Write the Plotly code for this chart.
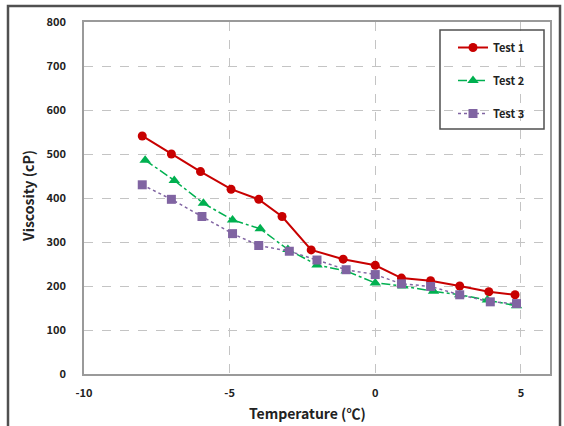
import plotly.graph_objects as go

# Data
t1_x = [-8.0, -7.0, -6.0, -4.95, -4.0, -3.2, -2.2, -1.1, 0.0, 0.9, 1.9, 2.9, 3.9, 4.8]
t1_y = [541, 500, 460, 420, 397, 358, 282, 261, 247, 218, 212, 200, 187, 180]

t2_x = [-7.9, -6.9, -5.9, -4.9, -3.95, -3.0, -2.0, -1.0, 0.0, 0.95, 2.0, 2.9, 3.85, 4.85]
t2_y = [486, 440, 388, 350, 330, 283, 248, 234, 207, 200, 188, 180, 168, 155]

t3_x = [-8.0, -7.0, -5.95, -4.9, -4.0, -2.95, -2.0, -1.0, 0.0, 0.9, 1.9, 2.9, 3.95, 4.85]
t3_y = [430, 397, 358, 319, 292, 279, 259, 237, 226, 205, 199, 180, 164, 160]

series_names = ["Test 1", "Test 2", "Test 3"]
x_ticks = [-10, -5, 0, 5]
x_tick_labels = ["-10", "-5", "0", "5"]
y_ticks = [0, 100, 200, 300, 400, 500, 600, 700, 800]

FONT = "Noto Sans CJK KR"
W, H = 564, 426
L, R, T, B = 84, 14, 22, 52
PW, PH = W - L - R, H - T - B


def px(xp):
    return (xp - L) / PW


def py(yp):
    return (H - B - yp) / PH


fig = go.Figure()
fig.add_trace(go.Scatter(
    x=t1_x, y=t1_y, name=series_names[0], mode="lines+markers", legendgroup="a",
    line=dict(color="#C80000", width=2),
    marker=dict(symbol="circle", size=9, color="#C80000")))
fig.add_trace(go.Scatter(
    x=t2_x, y=t2_y, name=series_names[1], mode="lines+markers", legendgroup="b",
    line=dict(color="#00B050", width=1.5, dash="dashdot"),
    marker=dict(symbol="triangle-up", size=10, color="#00B050")))
fig.add_trace(go.Scatter(
    x=t3_x, y=t3_y, name=series_names[2], mode="lines+markers", legendgroup="c",
    line=dict(color="#8064A2", width=1.5, dash="dot"),
    marker=dict(symbol="square", size=9, color="#8064A2")))

axis_common = dict(
    showgrid=True, gridcolor="#C4C4C4", griddash="dash", gridwidth=1,
    showline=True, linecolor="#9A9A9A", linewidth=1.5, mirror=True,
    zeroline=False, ticks="",
    tickfont=dict(family=FONT, size=11, color="#222222", weight="bold"),
)

fig.update_layout(
    width=W, height=H,
    margin=dict(l=L, r=R, t=T, b=B),
    paper_bgcolor="white", plot_bgcolor="white",
    showlegend=True,
    legend=dict(
        x=px(453), y=py(33), xanchor="left", yanchor="top",
        bgcolor="rgba(0,0,0,0)", borderwidth=0,
        font=dict(family=FONT, size=11, color="#222222", weight="bold"),
        itemwidth=30, tracegroupgap=14,
    ),
    xaxis=dict(range=[-10, 6], tickvals=x_ticks, ticktext=x_tick_labels,
               ticklabelstandoff=8, **axis_common),
    yaxis=dict(range=[0, 800], tickvals=y_ticks, ticklabelstandoff=14, **axis_common),
    annotations=[
        dict(text="Temperature (℃)", x=px(307), y=py(413), xref="paper", yref="paper",
             showarrow=False, xanchor="center", yanchor="middle",
             font=dict(family=FONT, size=14, color="#222222", weight="bold")),
        dict(text="Viscosity (cP)", x=px(28), y=py(196), xref="paper", yref="paper",
             showarrow=False, xanchor="center", yanchor="middle", textangle=-90,
             font=dict(family=FONT, size=14, color="#222222", weight="bold")),
    ],
    shapes=[
        dict(type="rect", xref="paper", yref="paper",
             x0=px(8), x1=px(560), y0=py(440), y1=py(6),
             line=dict(color="#505050", width=2.5), fillcolor="rgba(0,0,0,0)"),
        dict(type="rect", xref="paper", yref="paper",
             x0=px(440), x1=px(544), y0=py(129), y1=py(30),
             line=dict(color="#505050", width=1.5), fillcolor="rgba(0,0,0,0)"),
    ],
)

fig.write_html("out.html")
